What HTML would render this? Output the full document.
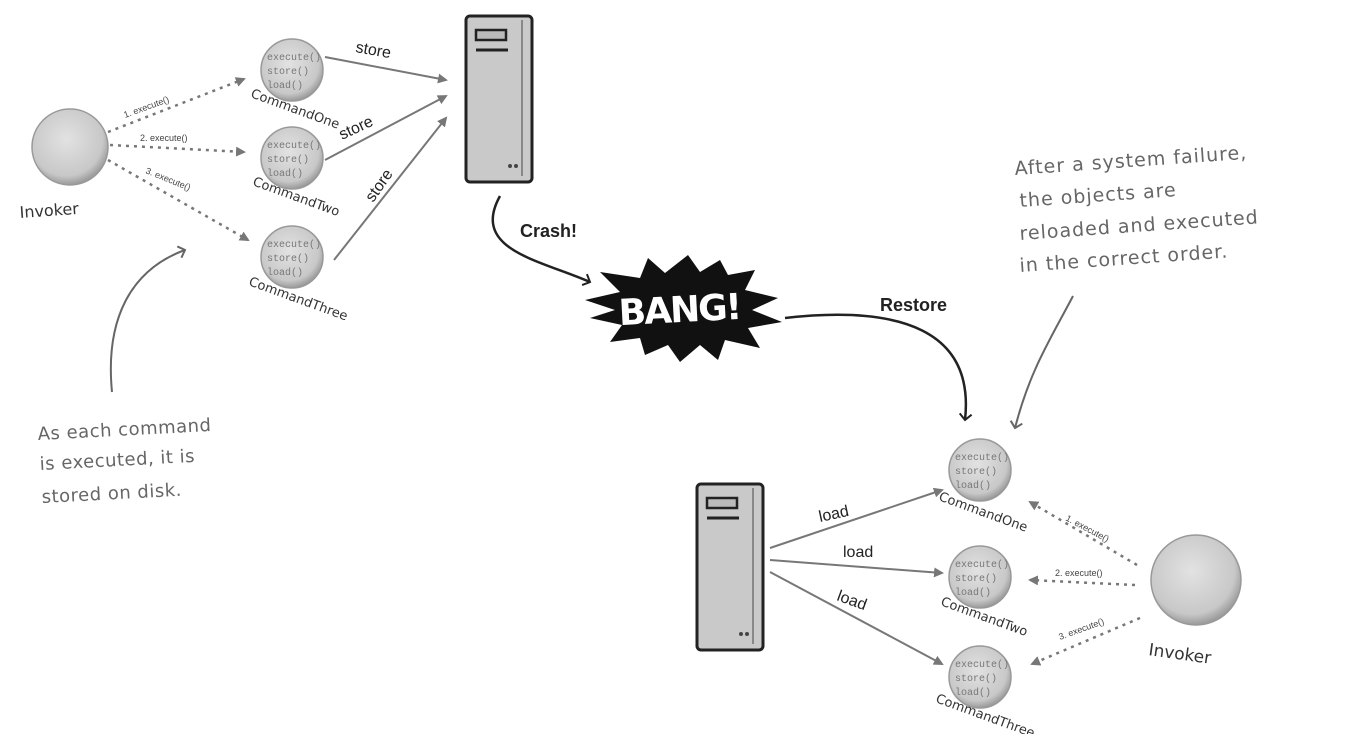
<!DOCTYPE html><html><head><style>body{margin:0;background:#fff}svg{display:block}</style></head><body>
<svg width="1354" height="734" viewBox="0 0 1354 734" xmlns="http://www.w3.org/2000/svg" font-family="Liberation Sans, sans-serif">
<defs>
<radialGradient id="g" cx="45%" cy="40%" r="60%"><stop offset="0" stop-color="#e2e2e2"/><stop offset="0.8" stop-color="#c8c8c8"/><stop offset="1" stop-color="#9a9a9a"/></radialGradient>
<marker id="a" markerWidth="10" markerHeight="10" refX="8" refY="5" orient="auto" markerUnits="userSpaceOnUse"><path d="M0,0 L10,5 L0,10 z" fill="#777"/></marker>
<marker id="b" markerWidth="14" markerHeight="14" refX="7" refY="7" orient="auto" markerUnits="userSpaceOnUse"><path d="M1,1 L7,7 L1,13" fill="none" stroke="#222" stroke-width="2"/></marker>
<marker id="c" markerWidth="14" markerHeight="14" refX="7" refY="7" orient="auto" markerUnits="userSpaceOnUse"><path d="M1,1 L7,7 L1,13" fill="none" stroke="#666" stroke-width="2"/></marker>
<g id="cmd"><circle r="31" fill="url(#g)" stroke="#999" stroke-width="1.5"/><g font-family="Liberation Mono, monospace" font-size="10" fill="#777"><text x="-25" y="-10">execute()</text><text x="-25" y="4">store()</text><text x="-25" y="18">load()</text></g></g>
<g id="srv"><rect x="0" y="0" width="66" height="166" rx="4" fill="#c9c9c9" stroke="#222" stroke-width="3"/><rect x="10" y="14" width="30" height="10" fill="#bbb" stroke="#222" stroke-width="2.5"/><line x1="10" y1="34" x2="42" y2="34" stroke="#222" stroke-width="3"/><line x1="56" y1="4" x2="56" y2="160" stroke="#888" stroke-width="2"/><circle cx="44" cy="150" r="2" fill="#444"/><circle cx="50" cy="150" r="2" fill="#444"/></g>
</defs>
<circle cx="70" cy="147" r="38" fill="url(#g)" stroke="#999" stroke-width="1.5"/>
<text x="20" y="218" font-family="DejaVu Sans, sans-serif" font-size="16" fill="#333" transform="rotate(-4 20 218)">Invoker</text>
<g stroke="#777" stroke-width="2.5" stroke-dasharray="3,5" marker-end="url(#a)" fill="none">
<line x1="108" y1="132" x2="244" y2="79"/><line x1="110" y1="145" x2="244" y2="152"/><line x1="108" y1="160" x2="248" y2="240"/></g>
<g font-size="9" fill="#444"><text x="125" y="118" transform="rotate(-20 125 118)">1. execute()</text><text x="140" y="141">2. execute()</text><text x="145" y="173" transform="rotate(22 145 173)">3. execute()</text></g>
<use href="#cmd" x="292" y="70"/><use href="#cmd" x="292" y="158"/><use href="#cmd" x="292" y="257"/>
<g font-family="DejaVu Sans, sans-serif" font-size="13" fill="#333"><text x="250" y="97" transform="rotate(20 250 97)">CommandOne</text><text x="252" y="185" transform="rotate(20 252 185)">CommandTwo</text><text x="248" y="285" transform="rotate(20 248 285)">CommandThree</text></g>
<g stroke="#777" stroke-width="2" marker-end="url(#a)"><line x1="325" y1="57" x2="446" y2="80"/><line x1="325" y1="160" x2="446" y2="96"/><line x1="334" y1="260" x2="446" y2="118"/></g>
<g font-size="16" fill="#222"><text x="355" y="52" transform="rotate(10 355 52)">store</text><text x="342" y="140" transform="rotate(-25 342 140)">store</text><text x="373" y="203" transform="rotate(-55 373 203)">store</text></g>
<use href="#srv" x="466" y="16"/>
<path d="M500,196 C470,250 540,260 590,282" fill="none" stroke="#222" stroke-width="2.5" marker-end="url(#b)"/>
<text x="520" y="237" font-size="18" font-weight="bold" fill="#222">Crash!</text>
<path d="M585,300 L620,292 L600,272 L640,278 L648,258 L665,273 L688,255 L700,272 L720,260 L728,275 L755,270 L745,290 L778,298 L752,310 L782,322 L748,328 L760,348 L725,340 L718,360 L700,345 L680,362 L668,345 L645,355 L640,338 L610,342 L622,325 L590,318 L615,310 z" fill="#111"/>
<text x="680" y="322" font-size="36" font-weight="bold" fill="#fff" text-anchor="middle" font-family="DejaVu Sans, sans-serif" letter-spacing="-2" transform="rotate(-3 680 322)">BANG!</text>
<path d="M785,318 C900,305 975,330 965,420" fill="none" stroke="#222" stroke-width="2.5" marker-end="url(#b)"/>
<text x="880" y="311" font-size="18" font-weight="bold" fill="#222">Restore</text>
<path d="M112,392 C105,320 130,270 185,250" fill="none" stroke="#666" stroke-width="2" marker-end="url(#c)"/>
<g font-family="DejaVu Sans, sans-serif" font-size="18" fill="#666" letter-spacing="0.5"><text x="38" y="440" transform="rotate(-3 38 440)">As each command</text><text x="40" y="470" transform="rotate(-3 40 470)">is executed, it is</text><text x="42" y="503" transform="rotate(-3 42 503)">stored on disk.</text></g>
<g font-family="DejaVu Sans, sans-serif" font-size="19" fill="#666" letter-spacing="1"><text x="1015" y="175" transform="rotate(-4 1015 175)">After a system failure,</text><text x="1020" y="207" transform="rotate(-4 1020 207)">the objects are</text><text x="1020" y="240" transform="rotate(-4 1020 240)">reloaded and executed</text><text x="1020" y="272" transform="rotate(-4 1020 272)">in the correct order.</text></g>
<path d="M1073,296 C1050,340 1030,370 1015,428" fill="none" stroke="#666" stroke-width="2" marker-end="url(#c)"/>
<use href="#srv" x="697" y="484"/>
<g stroke="#777" stroke-width="2" marker-end="url(#a)"><line x1="770" y1="548" x2="942" y2="490"/><line x1="770" y1="560" x2="942" y2="573"/><line x1="770" y1="572" x2="942" y2="664"/></g>
<g font-size="16" fill="#222"><text x="820" y="522" transform="rotate(-12 820 522)">load</text><text x="843" y="557">load</text><text x="836" y="600" transform="rotate(20 836 600)">load</text></g>
<use href="#cmd" x="980" y="470"/><use href="#cmd" x="980" y="577"/><use href="#cmd" x="980" y="677"/>
<g font-family="DejaVu Sans, sans-serif" font-size="13" fill="#333"><text x="938" y="500" transform="rotate(20 938 500)">CommandOne</text><text x="940" y="605" transform="rotate(20 940 605)">CommandTwo</text><text x="935" y="702" transform="rotate(20 935 702)">CommandThree</text></g>
<circle cx="1196" cy="580" r="45" fill="url(#g)" stroke="#999" stroke-width="1.5"/>
<text x="1148" y="655" font-family="DejaVu Sans, sans-serif" font-size="17" fill="#333" transform="rotate(8 1148 655)">Invoker</text>
<g stroke="#777" stroke-width="2.5" stroke-dasharray="3,5" marker-end="url(#a)" fill="none">
<line x1="1137" y1="565" x2="1030" y2="502"/><line x1="1135" y1="585" x2="1030" y2="580"/><line x1="1140" y1="618" x2="1032" y2="664"/></g>
<g font-size="9" fill="#444"><text x="1065" y="520" transform="rotate(28 1065 520)">1. execute()</text><text x="1055" y="576">2. execute()</text><text x="1060" y="640" transform="rotate(-20 1060 640)">3. execute()</text></g>
</svg></body></html>
